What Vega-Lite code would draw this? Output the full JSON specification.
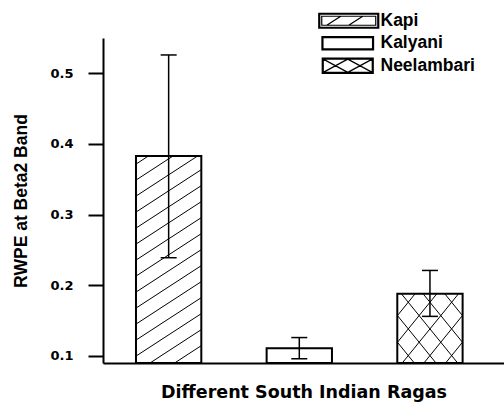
{
  "$schema": "https://vega.github.io/schema/vega-lite/v6.json",
  "width": 401,
  "height": 325,
  "autosize": {"type": "none"},
  "padding": {"left": 103, "top": 38, "right": 0, "bottom": 42},
  "background": "white",
  "config": {
    "view": {"stroke": null},
    "font": "Liberation Sans"
  },
  "data": {
    "values": [
      {"raga": "Kapi", "rwpe": 0.383, "lo": 0.239, "hi": 0.526},
      {"raga": "Kalyani", "rwpe": 0.111, "lo": 0.096, "hi": 0.126},
      {"raga": "Neelambari", "rwpe": 0.188, "lo": 0.156, "hi": 0.221}
    ]
  },
  "encoding": {
    "x": {
      "field": "raga",
      "type": "nominal",
      "sort": ["Kapi", "Kalyani", "Neelambari"],
      "scale": {"paddingInner": 0.5, "paddingOuter": 0.2846, "align": 0.4435},
      "axis": {
        "title": "Different South Indian Ragas",
        "labels": false,
        "ticks": false,
        "domainColor": "black",
        "domainWidth": 2,
        "titleFont": "DejaVu Sans",
        "titleFontSize": 17.5,
        "titleFontWeight": "bold",
        "titleColor": "black",
        "titlePadding": 20
      }
    }
  },
  "layer": [
    {
      "mark": {"type": "bar", "fill": "white", "stroke": "black", "strokeWidth": 2, "opacity": 1},
      "encoding": {
        "y": {
          "field": "rwpe",
          "type": "quantitative",
          "scale": {"domain": [0.09, 0.55], "nice": false, "zero": false},
          "axis": {
            "title": "RWPE at Beta2 Band",
            "values": [0.1, 0.2, 0.3, 0.4, 0.5],
            "format": ".1f",
            "ticks": true,
            "tickSize": 15,
            "tickColor": "black",
            "tickWidth": 2,
            "grid": false,
            "domainColor": "black",
            "domainWidth": 2,
            "labelFont": "DejaVu Sans",
            "labelFontSize": 13,
            "labelFontWeight": "bold",
            "labelColor": "black",
            "labelPadding": 15,
            "titleFont": "Liberation Sans",
            "titleFontSize": 17.5,
            "titleFontWeight": "bold",
            "titleColor": "black",
            "titlePadding": 19
          }
        },
        "y2": {"datum": 0.09}
      }
    },
    {
      "transform": [{"filter": "datum.raga != 'Kalyani'"}],
      "mark": {"type": "point", "size": 4, "filled": false, "stroke": "black", "strokeWidth": 1, "opacity": 1},
      "encoding": {
        "y": {"field": "rwpe", "type": "quantitative"},
        "shape": {
          "field": "raga",
          "type": "nominal",
          "scale": {
            "domain": ["Kapi", "Neelambari"],
            "range": [
              "M-32.5,8L-20.2,0M-32.5,24L4.4,0M-32.5,40L29,0M-32.5,56L32.5,13.75M-32.5,72L32.5,29.75M-32.5,88L32.5,45.75M-32.5,104L32.5,61.75M-32.5,120L32.5,77.75M-32.5,136L32.5,93.75M-32.5,152L32.5,109.75M-32.5,168L32.5,125.75M-32.5,184L32.5,141.75M-32.5,200L32.5,157.75M-18.65,207L32.5,173.75M5.96,207L32.5,189.75",
              "M-32.5,48.5L-15.7,69.2M-32.5,21.8L6,69.2M-28.6,0L27.7,69.2M-6.9,0L32.5,48.5M14.8,0L32.5,21.8M32.5,48.5L15.7,69.2M32.5,21.8L-6,69.2M28.6,0L-27.7,69.2M6.9,0L-32.5,48.5M-14.8,0L-32.5,21.8"
            ]
          },
          "legend": null
        }
      }
    },
    {
      "mark": {"type": "rule", "color": "black", "strokeWidth": 1.5, "opacity": 1},
      "encoding": {
        "y": {"field": "lo", "type": "quantitative"},
        "y2": {"field": "hi"}
      }
    },
    {
      "mark": {"type": "tick", "color": "black", "size": 16, "thickness": 1.5, "opacity": 1},
      "encoding": {"y": {"field": "lo", "type": "quantitative"}}
    },
    {
      "mark": {"type": "tick", "color": "black", "size": 16, "thickness": 1.5, "opacity": 1},
      "encoding": {"y": {"field": "hi", "type": "quantitative"}}
    },
    {
      "mark": {"type": "point", "size": 4, "filled": false, "color": "black", "strokeWidth": 1.2, "opacity": 0},
      "encoding": {
        "y": {"field": "rwpe", "type": "quantitative"},
        "shape": {
          "field": "raga",
          "type": "nominal",
          "scale": {
            "domain": ["Kapi", "Kalyani", "Neelambari"],
            "range": [
              "M-29,-7.5H31V7.5H-29ZM-28,-6.5H30V6.5H-28ZM-26,-4.5H28V4.5H-26ZM-21,4.5L-7,-4.5M1,4.5L15,-4.5",
              "M-25.8,-6.6H25.8V6.6H-25.8ZM-24.8,-5.6H24.8V5.6H-24.8Z",
              "M-25.5,-7.6H25.5V7.6H-25.5ZM-24.5,-6.6H24.5V6.6H-24.5ZM-24.5,-6.6L0,6.6M0,-6.6L24.5,6.6M0,-6.6L-24.5,6.6M24.5,-6.6L0,6.6"
            ]
          },
          "legend": {
            "title": null,
            "orient": "none",
            "legendX": 236,
            "legendY": -26,
            "symbolSize": 4,
            "symbolStrokeColor": "black",
            "symbolStrokeWidth": 1.2,
            "symbolOpacity": 1,
            "labelFont": "Liberation Sans",
            "labelFontSize": 17.5,
            "labelFontWeight": "bold",
            "labelColor": "black",
            "labelOffset": 24,
            "rowPadding": 2.5,
            "padding": 0,
            "encode": {
              "symbols": {
                "update": {
                  "opacity": {"value": 1}
                }
              }
            }
          }
        }
      }
    }
  ],
  "resolve": {"scale": {"shape": "independent"}}
}
